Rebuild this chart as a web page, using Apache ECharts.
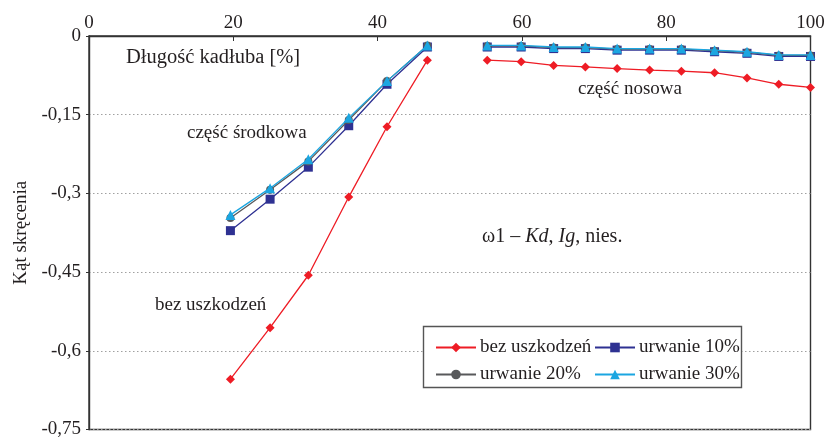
<!DOCTYPE html>
<html>
<head>
<meta charset="utf-8">
<script src="https://cdn.jsdelivr.net/npm/echarts@6/dist/echarts.min.js"></script>
<style>
  html, body { margin: 0; padding: 0; background: #fff; }
  #chart { width: 828px; height: 439px; }
</style>
</head>
<body>
<div id="chart"></div>
<script>
// Hull length positions [%] – midship section and bow section
const midX  = [19.6, 25.1, 30.4, 36.0, 41.3, 46.9];
const bowX  = [55.2, 59.9, 64.4, 68.8, 73.2, 77.7, 82.1, 86.7, 91.2, 95.6, 100];

// Twist angle – undamaged hull
const intactMid = [-0.654, -0.556, -0.456, -0.307, -0.173, -0.046];
const intactBow = [-0.046, -0.049, -0.056, -0.059, -0.062, -0.065, -0.067, -0.070, -0.080, -0.092, -0.098];

// Twist angle – 10% tear
const tear10Mid = [-0.371, -0.311, -0.250, -0.171, -0.092, -0.021];
const tear10Bow = [-0.021, -0.021, -0.024, -0.024, -0.027, -0.027, -0.027, -0.030, -0.033, -0.039, -0.039];

// Twist angle – 20% tear
const tear20Mid = [-0.347, -0.293, -0.239, -0.160, -0.086, -0.018];
const tear20Bow = [-0.019, -0.019, -0.022, -0.022, -0.025, -0.025, -0.025, -0.028, -0.031, -0.037, -0.037];

// Twist angle – 30% tear
const tear30Mid = [-0.341, -0.290, -0.235, -0.156, -0.086, -0.018];
const tear30Bow = [-0.018, -0.018, -0.021, -0.021, -0.024, -0.024, -0.024, -0.027, -0.030, -0.036, -0.036];

const xTicks = [0, 20, 40, 60, 80, 100];
const yTicks = [0, -0.15, -0.3, -0.45, -0.6, -0.75];

const seriesNames = ['bez uszkodzeń', 'urwanie 10%', 'urwanie 20%', 'urwanie 30%'];

// Join both hull sections, leaving an empty point so the line breaks between them
function joined(midVals, bowVals) {
  const pts = midX.map((x, i) => [x, midVals[i]]);
  pts.push([51, '-']);
  bowX.forEach((x, i) => pts.push([x, bowVals[i]]));
  return pts;
}

const FONT = '"Liberation Serif", "DejaVu Serif", serif';
const TXT = '#231f20';

const chart = echarts.init(document.getElementById('chart'), null, { renderer: 'canvas' });

function lineSeries(name, data, color, symbol, size, z) {
  return {
    name, type: 'line', data,
    connectNulls: false,
    symbol, symbolSize: size,
    lineStyle: { color, width: 1.3 },
    itemStyle: { color },
    z,
    animation: false
  };
}

const legendText = { color: TXT, fontFamily: FONT, fontSize: 19, padding: [0, 0, 0, -1] };

const option = {
  animation: false,
  grid: {
    left: 89, top: 36, right: 17.5, bottom: 8,
    show: true, borderColor: '#333', borderWidth: 1.4, backgroundColor: 'transparent'
  },
  xAxis: {
    type: 'value', position: 'top',
    min: xTicks[0], max: xTicks[xTicks.length - 1], interval: 20,
    axisLine: { show: true, lineStyle: { color: '#333', width: 1.4 } },
    axisTick: { show: true, inside: true, length: 5, lineStyle: { color: '#333' } },
    axisLabel: { color: TXT, fontFamily: FONT, fontSize: 19, margin: 3 },
    splitLine: { show: false }
  },
  yAxis: {
    type: 'value',
    min: yTicks[yTicks.length - 1], max: yTicks[0], interval: 0.15,
    name: 'Kąt skręcenia', nameLocation: 'middle', nameGap: 58, nameRotate: 90,
    nameTextStyle: { color: TXT, fontFamily: FONT, fontSize: 19 },
    axisLine: { show: true, lineStyle: { color: '#333', width: 1.4 } },
    axisTick: { show: true, inside: false, length: 3, lineStyle: { color: '#333' } },
    axisLabel: {
      color: TXT, fontFamily: FONT, fontSize: 19, margin: 8,
      formatter: v => String(+v.toFixed(2)).replace('.', ',')
    },
    splitLine: { show: true, lineStyle: { color: '#a0a0a0', type: [1.5, 2.5], width: 1 } }
  },
  legend: [
    {
      data: [seriesNames[0], seriesNames[2]],
      orient: 'vertical', left: 430, top: 333,
      itemWidth: 40, itemHeight: 12, itemGap: 8,
      textStyle: legendText,
      z: 10
    },
    {
      data: [seriesNames[1], seriesNames[3]],
      orient: 'vertical', left: 589, top: 333,
      itemWidth: 40, itemHeight: 12, itemGap: 8,
      textStyle: legendText,
      z: 10
    }
  ],
  graphic: [
    {
      type: 'rect', z: 5,
      shape: { x: 423.5, y: 326.5, width: 318, height: 61 },
      style: { fill: '#fff', stroke: '#555', lineWidth: 1.4 }
    },
    {
      type: 'text', left: 126, top: 47, z: 6,
      style: { text: 'Długość kadłuba [%]', fill: TXT, font: '20.5px ' + FONT }
    },
    {
      type: 'text', left: 187, top: 124, z: 6,
      style: { text: 'część środkowa', fill: TXT, font: '19px ' + FONT }
    },
    {
      type: 'text', left: 578, top: 80, z: 6,
      style: { text: 'część nosowa', fill: TXT, font: '19px ' + FONT }
    },
    {
      type: 'text', left: 155, top: 296, z: 6,
      style: { text: 'bez uszkodzeń', fill: TXT, font: '19px ' + FONT }
    },
    {
      type: 'text', left: 482, top: 227, z: 6,
      style: {
        text: '{n|ω1 – }{i|Kd}{n|, }{i|Ig}{n|, nies.}',
        rich: {
          n: { fill: TXT, font: '20px ' + FONT },
          i: { fill: TXT, font: 'italic 20px ' + FONT }
        }
      }
    }
  ],
  series: [
    lineSeries(seriesNames[0], joined(intactMid, intactBow), '#ee1c25', 'diamond', 9, 2),
    lineSeries(seriesNames[1], joined(tear10Mid, tear10Bow), '#2e3192', 'rect', 9, 3),
    lineSeries(seriesNames[2], joined(tear20Mid, tear20Bow), '#58595b', 'circle', 8, 4),
    lineSeries(seriesNames[3], joined(tear30Mid, tear30Bow), '#1ba6e1', 'triangle', 10, 5)
  ]
};

chart.setOption(option);
</script>
</body>
</html>
